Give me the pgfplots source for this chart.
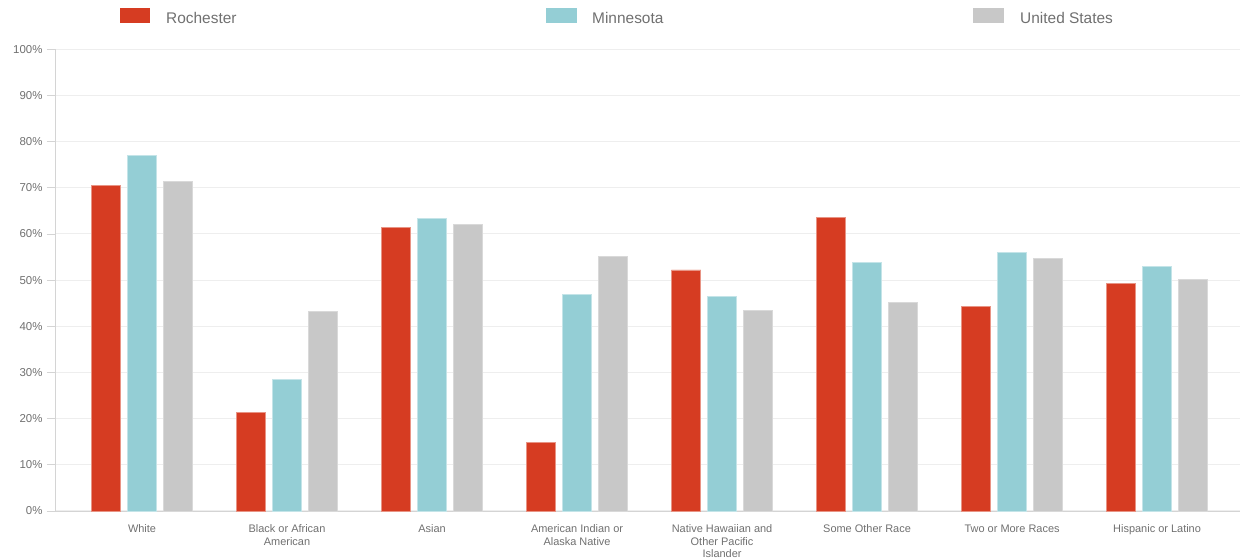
\documentclass[border=0pt]{standalone}
\usepackage{fontspec}
\setmainfont{Liberation Sans}
\usepackage{pgfplots}
\pgfplotsset{compat=1.18}
\definecolor{roch}{HTML}{D63C22}
\definecolor{minn}{HTML}{94CED5}
\definecolor{usa}{HTML}{C8C8C8}
\definecolor{gridc}{HTML}{EEEEEE}
\definecolor{labc}{HTML}{707070}
\definecolor{axc}{HTML}{D4D4D4}

\begin{document}
\begin{tikzpicture}[x=1bp,y=1bp]
\useasboundingbox (0,0) rectangle (1244,560);
\begin{axis}[
  at={(55bp,49bp)}, anchor=south west,
  scale only axis, width=1185bp, height=461.7bp,
  xmin=-0.6, xmax=7.572, ymin=0, ymax=100,
  axis lines=left, axis line style={-},
  x axis line style={draw=axc, line width=0.8bp},
  y axis line style={draw=axc, line width=0.8bp},
  xtick={0,...,7},
  xticklabels={White, {Black or African\\American}, Asian,
    {American Indian or\\Alaska Native},
    {Native Hawaiian and\\Other Pacific\\Islander},
    Some Other Race, Two or More Races, Hispanic or Latino},
  xticklabel style={align=center, text=labc,
    font=\fontsize{11}{12.7}\selectfont, anchor=north, yshift=-2bp},
  x tick style={draw=none},
  ytick={0,10,...,100},
  yticklabels={0\%,10\%,20\%,30\%,40\%,50\%,60\%,70\%,80\%,90\%,100\%},
  yticklabel style={text=labc, font=\fontsize{11.5}{13}\selectfont, xshift=-1bp},
  tick align=outside, major tick length=8bp,
  y tick style={draw=axc, line width=0.8bp},
  ymajorgrids, grid style={draw=gridc, line width=1bp},
  clip=false,
]
% Rochester
\addplot[ybar, bar width=29.5bp, bar shift=-36bp, fill=roch,
  draw=roch!55!white, line width=0.8bp] coordinates {
  (0,70.6) (1,21.3) (2,61.4) (3,14.9) (4,52.2) (5,63.6) (6,44.3) (7,49.2)};
% Minnesota
\addplot[ybar, bar width=29.5bp, bar shift=0bp, fill=minn,
  draw=minn!55!white, line width=0.8bp] coordinates {
  (0,77.0) (1,28.5) (2,63.3) (3,46.9) (4,46.4) (5,53.8) (6,56.0) (7,53.0)};
% United States
\addplot[ybar, bar width=29.5bp, bar shift=36bp, fill=usa,
  draw=usa!70!white, line width=0.8bp] coordinates {
  (0,71.4) (1,43.2) (2,62.0) (3,55.2) (4,43.5) (5,45.2) (6,54.7) (7,50.2)};
\end{axis}
% legend across the top
\fill[roch] (120,536.7) rectangle (150,551.7);
\node[anchor=base west, text=labc, font=\fontsize{15.5}{18}\selectfont, inner sep=0] at (166,536) {Rochester};
\fill[minn] (546,536.7) rectangle (577,551.7);
\node[anchor=base west, text=labc, font=\fontsize{15.5}{18}\selectfont, inner sep=0] at (592,536) {Minnesota};
\fill[usa] (973,536.7) rectangle (1004,551.7);
\node[anchor=base west, text=labc, font=\fontsize{15.5}{18}\selectfont, inner sep=0] at (1020,536) {United States};
\end{tikzpicture}
\end{document}
